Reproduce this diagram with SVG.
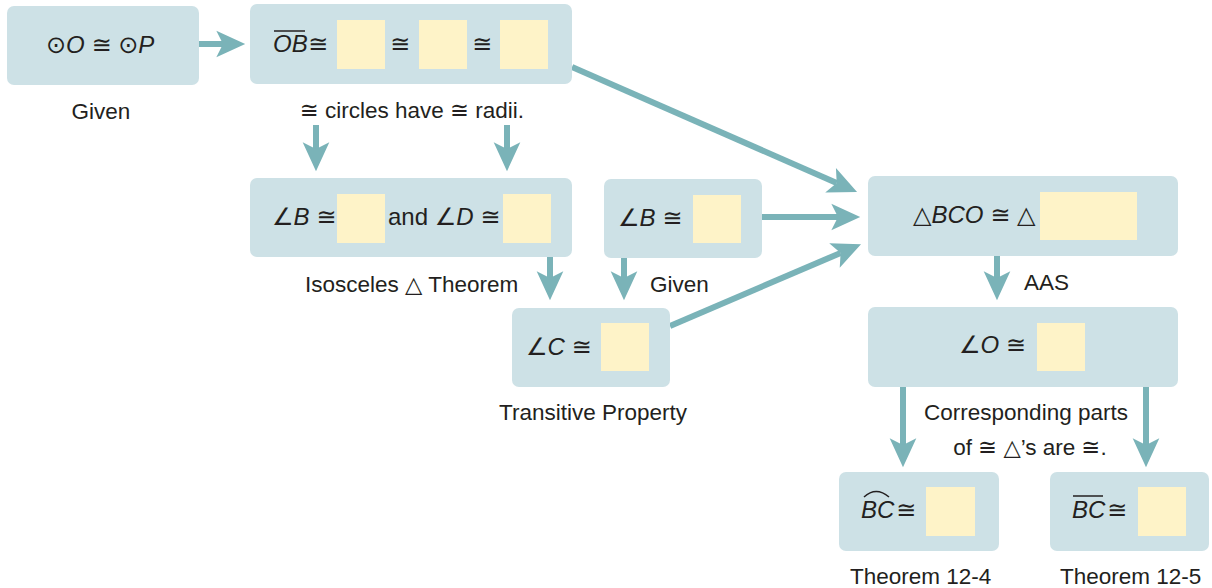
<svg xmlns="http://www.w3.org/2000/svg" width="1212" height="588" viewBox="0 0 1212 588">
<style>
.node{fill:#cde1e6}
.blank{fill:#fef3c8}
.m{font-family:"Liberation Sans","DejaVu Sans",sans-serif;font-size:24px;fill:#231f20}
.i{font-style:italic}
.t{font-family:"Liberation Sans","DejaVu Sans",sans-serif;font-size:22.5px;fill:#231f20}
.c{stroke:#7ab3b8;stroke-width:6;fill:none;marker-end:url(#ah)}
.bar{stroke:#231f20;stroke-width:1.5;fill:none}
</style>
<defs>
<marker id="ah" markerUnits="userSpaceOnUse" markerWidth="30" markerHeight="30" refX="6" refY="0" viewBox="0 -13 27 26" orient="auto" overflow="visible">
<path d="M0,-12 L26,0 L0,12 L6,0 Z" fill="#7ab3b8"/>
</marker>
</defs>

<g id="connectors">
<line class="c" x1="199" y1="44" x2="223" y2="44"/>
<line class="c" x1="316" y1="125" x2="316" y2="149"/>
<line class="c" x1="507" y1="125" x2="507" y2="149"/>
<line class="c" x1="572" y1="67" x2="836.7" y2="183"/>
<line class="c" x1="762" y1="217" x2="838" y2="217"/>
<line class="c" x1="670" y1="326" x2="840.6" y2="252.9"/>
<line class="c" x1="550" y1="257" x2="550" y2="278"/>
<line class="c" x1="624" y1="258" x2="624" y2="278"/>
<line class="c" x1="997" y1="256" x2="997" y2="278"/>
<line class="c" x1="903" y1="387" x2="903" y2="445"/>
<line class="c" x1="1146" y1="387" x2="1146" y2="445"/>
</g>

<g id="n1">
<rect class="node" x="7" y="6" width="192" height="79" rx="7"/>
<text class="m" x="46" y="53">⊙<tspan class="i">O</tspan> ≅ ⊙<tspan class="i">P</tspan></text>
</g>
<text id="l1" class="t" x="101" y="119" text-anchor="middle">Given</text>

<g id="n2">
<rect class="node" x="250" y="4" width="322" height="80" rx="7"/>
<text class="m i" x="273" y="52">OB</text>
<line class="bar" x1="274" y1="31" x2="305" y2="31"/>
<text class="m" x="308" y="52">≅</text>
<rect class="blank" x="337" y="20" width="48" height="49"/>
<text class="m" x="390" y="52">≅</text>
<rect class="blank" x="419" y="20" width="48" height="49"/>
<text class="m" x="472" y="52">≅</text>
<rect class="blank" x="500" y="20" width="48" height="49"/>
</g>
<text id="l2" class="t" x="412" y="118" text-anchor="middle">≅ circles have ≅ radii.</text>

<g id="n3">
<rect class="node" x="250" y="178" width="322" height="79" rx="7"/>
<text class="m" x="272" y="225">∠<tspan class="i">B</tspan> ≅</text>
<rect class="blank" x="337" y="194" width="48" height="49"/>
<text class="m" x="388" y="225">and ∠<tspan class="i">D</tspan> ≅</text>
<rect class="blank" x="503" y="194" width="48" height="49"/>
</g>
<text id="l3" class="t" x="305" y="292">Isosceles △ Theorem</text>

<g id="n4">
<rect class="node" x="604" y="179" width="158" height="79" rx="7"/>
<text class="m" x="618" y="226">∠<tspan class="i">B</tspan> ≅</text>
<rect class="blank" x="693" y="195" width="48" height="48"/>
</g>
<text id="l4" class="t" x="650" y="292">Given</text>

<g id="n5">
<rect class="node" x="512" y="308" width="158" height="79" rx="7"/>
<text class="m" x="526" y="355">∠<tspan class="i">C</tspan> ≅</text>
<rect class="blank" x="601" y="323" width="48" height="48"/>
</g>
<text id="l5" class="t" x="499" y="420">Transitive Property</text>

<g id="n6">
<rect class="node" x="868" y="176" width="310" height="80" rx="7"/>
<text class="m" x="913" y="223">△<tspan class="i">BCO</tspan> ≅ △</text>
<rect class="blank" x="1040" y="192" width="97" height="48"/>
</g>
<text id="l6" class="t" x="1024" y="290">AAS</text>

<g id="n7">
<rect class="node" x="868" y="307" width="310" height="80" rx="7"/>
<text class="m" x="959" y="353">∠<tspan class="i">O</tspan> ≅</text>
<rect class="blank" x="1037" y="323" width="48" height="48"/>
</g>
<text id="l7" class="t" text-anchor="middle"><tspan x="1026" y="420">Corresponding parts</tspan><tspan x="1030" y="455">of ≅ △’s are ≅.</tspan></text>

<g id="n8">
<rect class="node" x="839" y="472" width="160" height="79" rx="7"/>
<text class="m i" x="861" y="518">BC</text>
<path class="bar" d="M864,497 Q876,486 889,497"/>
<text class="m" x="896" y="518">≅</text>
<rect class="blank" x="926" y="487" width="49" height="49"/>
</g>
<text id="l8" class="t" x="850" y="584">Theorem 12-4</text>

<g id="n9">
<rect class="node" x="1050" y="472" width="159" height="79" rx="7"/>
<text class="m i" x="1072" y="518">BC</text>
<line class="bar" x1="1073" y1="496" x2="1103" y2="496"/>
<text class="m" x="1107" y="518">≅</text>
<rect class="blank" x="1138" y="487" width="48" height="49"/>
</g>
<text id="l9" class="t" x="1060" y="584">Theorem 12-5</text>
</svg>
